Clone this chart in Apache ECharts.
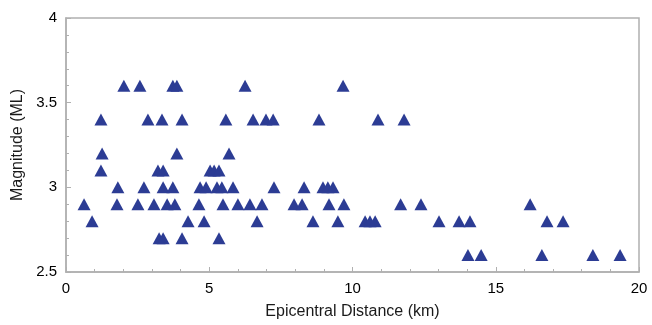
<!DOCTYPE html>
<html>
<head>
<meta charset="utf-8">
<script src="https://cdn.jsdelivr.net/npm/echarts@6/dist/echarts.min.js"></script>
<style>
html,body{margin:0;padding:0;background:#fff;}
#c{width:652px;height:325px;}
</style>
</head>
<body>
<div id="c"></div>
<script>
// Epicentral distance (km) of each event
const distance = [
  2.02, 2.58, 3.73, 3.87, 6.25, 9.67,
  1.22, 2.86, 3.35, 4.05, 5.58, 6.53, 6.98, 7.23, 8.83, 10.89, 11.80,
  1.26, 3.87, 5.69,
  1.22, 3.21, 3.39, 5.03, 5.17, 5.34,
  1.81, 2.72, 3.39, 3.73, 4.68, 4.89, 5.27, 5.44, 5.83, 7.26, 8.31, 8.97, 9.14, 9.32,
  0.63, 1.78, 2.51, 3.07, 3.53, 3.80, 4.64, 5.48, 6.00, 6.42, 6.84, 7.96, 8.24, 9.18, 9.70, 11.68, 12.39, 16.20,
  0.91, 4.26, 4.82, 6.67, 8.62, 9.49, 10.44, 10.61, 10.79, 13.02, 13.72, 14.10, 16.79, 17.35,
  3.25, 3.39, 4.05, 5.34,
  14.03, 14.49, 16.61, 18.39, 19.34
];
// Local magnitude (ML) of each event
const magnitude = [
  3.6, 3.6, 3.6, 3.6, 3.6, 3.6,
  3.4, 3.4, 3.4, 3.4, 3.4, 3.4, 3.4, 3.4, 3.4, 3.4, 3.4,
  3.2, 3.2, 3.2,
  3.1, 3.1, 3.1, 3.1, 3.1, 3.1,
  3.0, 3.0, 3.0, 3.0, 3.0, 3.0, 3.0, 3.0, 3.0, 3.0, 3.0, 3.0, 3.0, 3.0,
  2.9, 2.9, 2.9, 2.9, 2.9, 2.9, 2.9, 2.9, 2.9, 2.9, 2.9, 2.9, 2.9, 2.9, 2.9, 2.9, 2.9, 2.9,
  2.8, 2.8, 2.8, 2.8, 2.8, 2.8, 2.8, 2.8, 2.8, 2.8, 2.8, 2.8, 2.8, 2.8,
  2.7, 2.7, 2.7, 2.7,
  2.6, 2.6, 2.6, 2.6, 2.6
];
const xTicks = [0, 5, 10, 15, 20];
const yTicks = [2.5, 3, 3.5, 4];

const points = distance.map((d, i) => [d, magnitude[i]]);

const chart = echarts.init(document.getElementById('c'), null, {renderer: 'canvas'});
const font = 'Liberation Sans, Arial, sans-serif';
const lineColor = '#b0b0b0';
chart.setOption({
  animation: false,
  backgroundColor: '#fff',
  grid: {left: 66, right: 13, top: 18, bottom: 51, show: true, borderColor: lineColor, borderWidth: 1.5},
  xAxis: {
    type: 'value', min: xTicks[0], max: xTicks[xTicks.length - 1], interval: 5,
    name: 'Epicentral Distance (km)', nameLocation: 'middle', nameGap: 32,
    nameTextStyle: {fontFamily: font, fontSize: 16, color: '#1a1a1a'},
    axisLine: {show: true, lineStyle: {color: lineColor, width: 1.5}},
    axisTick: {show: true, inside: true, length: 5, lineStyle: {color: lineColor}},
    minorTick: {show: true, splitNumber: 5, length: 3, lineStyle: {color: lineColor}},
    splitLine: {show: false},
    axisLabel: {fontFamily: font, fontSize: 15, color: '#000', margin: 9, formatter: v => xTicks.includes(v) ? String(v) : ''}
  },
  yAxis: {
    type: 'value', min: yTicks[0], max: yTicks[yTicks.length - 1], interval: 0.5,
    name: 'Magnitude (ML)', nameLocation: 'middle', nameGap: 40, nameRotate: 90,
    nameTextStyle: {fontFamily: font, fontSize: 16, color: '#1a1a1a'},
    axisLine: {show: true, lineStyle: {color: lineColor, width: 1.5}},
    axisTick: {show: true, inside: true, length: 5, lineStyle: {color: lineColor}},
    minorTick: {show: true, splitNumber: 5, length: 3, lineStyle: {color: lineColor}},
    splitLine: {show: false},
    axisLabel: {fontFamily: font, fontSize: 15, color: '#000', margin: 9, formatter: v => String(v)}
  },
  series: [{
    type: 'scatter',
    data: points,
    symbol: 'triangle',
    symbolSize: [13, 12],
    itemStyle: {color: '#2c3c94', opacity: 1}
  }]
});
</script>
</body>
</html>
